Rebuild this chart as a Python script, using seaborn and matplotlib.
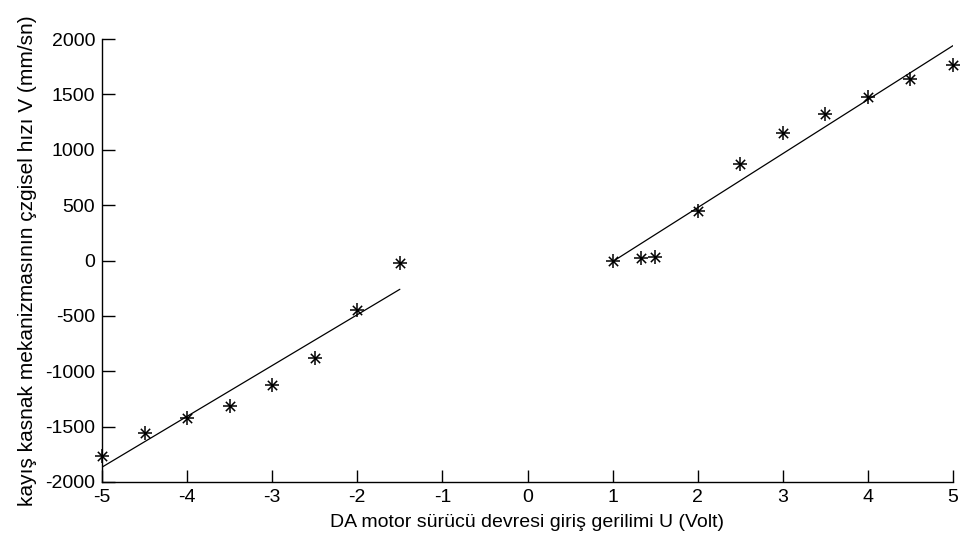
import matplotlib
matplotlib.use("Agg")
import matplotlib.pyplot as plt
import seaborn as sns
import pandas as pd

# Measured speed for negative input voltages
neg_u = [-5.0, -4.5, -4.0, -3.5, -3.0, -2.5, -2.0, -1.5]
neg_v = [-1765, -1560, -1425, -1310, -1125, -877, -447, -25]

# Measured speed for positive input voltages
pos_u = [1.0, 1.33, 1.5, 2.0, 2.5, 3.0, 3.5, 4.0, 4.5, 5.0]
pos_v = [0, 20, 35, 450, 871, 1148, 1325, 1473, 1635, 1764]

# Linear fit segments (end points)
fit_neg_u = [-5.0, -1.5]
fit_neg_v = [-1866, -260]
fit_pos_u = [1.0, 5.0]
fit_pos_v = [-10, 1940]

x_ticks = [-5, -4, -3, -2, -1, 0, 1, 2, 3, 4, 5]
y_ticks = [-2000, -1500, -1000, -500, 0, 500, 1000, 1500, 2000]

sns.set_style("white")
plt.rcParams["font.family"] = ["Liberation Sans", "DejaVu Sans"]

fig = plt.figure(figsize=(9.6, 5.44), dpi=100)
ax = fig.add_axes([102 / 960, 62 / 544, 851 / 960, 443 / 544])

pts = pd.DataFrame({"u": neg_u + pos_u, "v": neg_v + pos_v})
fits = [pd.DataFrame({"u": fit_neg_u, "v": fit_neg_v}),
        pd.DataFrame({"u": fit_pos_u, "v": fit_pos_v})]

for f in fits:
    sns.lineplot(data=f, x="u", y="v", ax=ax, color="black", linewidth=0.9,
                 estimator=None, sort=False)

# asterisk marker: plus with a smaller cross over it
sns.scatterplot(data=pts, x="u", y="v", ax=ax, marker="+", s=110,
                color="black", linewidth=1.1, zorder=5, clip_on=False)
sns.scatterplot(data=pts, x="u", y="v", ax=ax, marker="x", s=45,
                color="black", linewidth=1.1, zorder=5, clip_on=False)

ax.set_xlim(-5, 5)
ax.set_ylim(-2000, 2000)
ax.set_xticks(x_ticks)
ax.set_yticks(y_ticks)
ax.set_xticklabels([str(t) for t in x_ticks])
ax.set_yticklabels([str(t) for t in y_ticks])

for side in ("top", "right"):
    ax.spines[side].set_visible(False)
for side in ("left", "bottom"):
    ax.spines[side].set_color("black")
    ax.spines[side].set_linewidth(1.0)

ax.tick_params(axis="both", direction="in", length=9, width=1.0,
               colors="black", labelsize=14, pad=5)
ax.tick_params(axis="both", which="both", left=True, bottom=True)

ax.set_xlabel("DA motor sürücü devresi giriş gerilimi U (Volt)", fontsize=14,
              color="black", labelpad=6)
ax.set_ylabel("kayış kasnak mekanizmasının çzgisel hızı V (mm/sn)", fontsize=15,
              color="black", labelpad=6)

fig.savefig("out.png", dpi=100, facecolor="white")
